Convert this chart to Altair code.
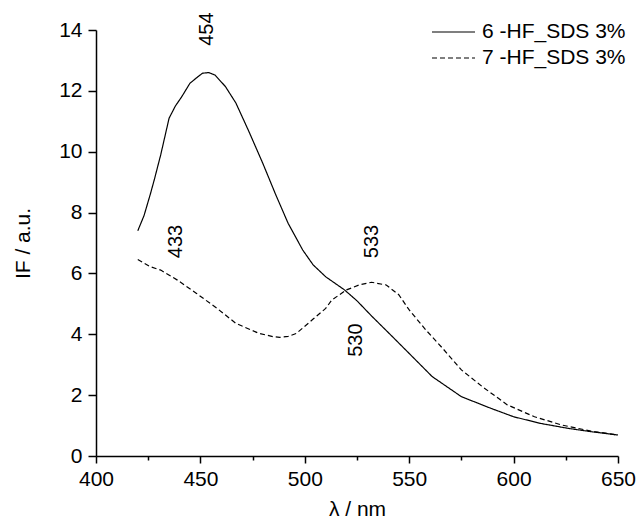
import altair as alt
import pandas as pd

# Series 6 (solid)
lam6 = [420, 423, 426, 428, 431, 435, 438, 441, 445, 448, 451, 454, 457, 462, 467,
        473, 480, 486, 492, 499, 504, 510, 519, 525, 532, 542, 550, 561, 575, 589,
        600, 613, 626, 637, 650]
if6 = [7.4, 7.9, 8.6, 9.1, 9.9, 11.1, 11.5, 11.8, 12.25, 12.42, 12.58, 12.6, 12.52, 12.14, 11.6,
       10.7, 9.6, 8.6, 7.65, 6.77, 6.28, 5.89, 5.46, 5.1, 4.6, 3.92, 3.37, 2.61, 1.95, 1.57,
       1.29, 1.07, 0.91, 0.80, 0.69]

# Series 7 (dashed)
lam7 = [420, 426, 431, 439, 448, 458, 467, 478, 485, 488, 492, 496, 504, 510, 513,
        520, 526, 532, 539, 545, 550, 558, 566, 575, 585, 597, 610, 623, 637, 650]
if7 = [6.46, 6.22, 6.11, 5.78, 5.35, 4.85, 4.36, 4.03, 3.92, 3.90, 3.93, 4.03, 4.5, 4.85, 5.13,
       5.46, 5.62, 5.71, 5.62, 5.3, 4.8, 4.14, 3.54, 2.83, 2.28, 1.68, 1.29, 1.02, 0.82, 0.69]

series_names = ["6 -HF_SDS 3%", "7 -HF_SDS 3%"]

# Peak annotations
ann_lam = [453.3, 438.3, 532.1, 524.3]
ann_if = [14.03, 7.05, 7.05, 3.81]
ann_text = ["454", "433", "533", "530"]

x_ticks = [400, 425, 450, 475, 500, 525, 550, 575, 600, 625, 650]
y_ticks = list(range(0, 15))

FONT = "Liberation Sans"

df = pd.concat([
    pd.DataFrame({"lam": lam6, "IF": if6, "series": series_names[0]}),
    pd.DataFrame({"lam": lam7, "IF": if7, "series": series_names[1]}),
])
ann = pd.DataFrame({"lam": ann_lam, "IF": ann_if, "txt": ann_text})

xscale = alt.Scale(domain=[400, 650], nice=False, zero=False)
yscale = alt.Scale(domain=[0, 14], nice=False)

xaxis = alt.Axis(
    values=x_ticks, title="λ / nm", grid=False, labelFlush=False,
    labelExpr="datum.value % 50 === 0 ? datum.label : ''",
    tickSize={"condition": {"test": "datum.value % 50 === 0", "value": 7}, "value": 4},
    labelPadding=5, titlePadding=9,
)
yaxis = alt.Axis(
    values=y_ticks, title="IF / a.u.", grid=False, labelFlush=False,
    labelExpr="datum.value % 2 === 0 ? datum.label : ''",
    tickSize={"condition": {"test": "datum.value % 2 === 0", "value": 8}, "value": 4},
    labelPadding=6, titlePadding=25,
)

lines = alt.Chart(df).mark_line(strokeWidth=1.2, color="black").encode(
    x=alt.X("lam:Q", scale=xscale, axis=xaxis),
    y=alt.Y("IF:Q", scale=yscale, axis=yaxis),
    strokeDash=alt.StrokeDash(
        "series:N",
        scale=alt.Scale(domain=series_names, range=[[1, 0], [5, 3]]),
        legend=alt.Legend(
            title=None, orient="none", legendX=335, legendY=-11,
            symbolType="stroke", symbolSize=1849, symbolStrokeWidth=1.2,
            symbolStrokeColor="black", clipHeight=26, rowPadding=0,
            labelFontSize=21, labelFont=FONT, labelColor="black", labelOffset=6,
        ),
    ),
    detail="series:N",
)

labels = alt.Chart(ann).mark_text(
    angle=270, fontSize=20, font=FONT, color="black", align="center", baseline="middle"
).encode(
    x=alt.X("lam:Q", scale=xscale),
    y=alt.Y("IF:Q", scale=yscale),
    text="txt:N",
)

chart = alt.layer(lines, labels).properties(
    width=522, height=426,
    autosize=alt.AutoSizeParams(type="none"),
    padding={"left": 88, "top": 22, "right": 18, "bottom": 62},
).configure_view(stroke=None).configure_axis(
    domainColor="black", domainWidth=1.5, tickColor="black", tickWidth=1.5,
    labelFont=FONT, titleFont=FONT, labelFontSize=21, titleFontSize=21,
    labelColor="black", titleColor="black", titleFontWeight="normal",
)

chart.save("out.html", embed_options={"renderer": "svg", "actions": False})
